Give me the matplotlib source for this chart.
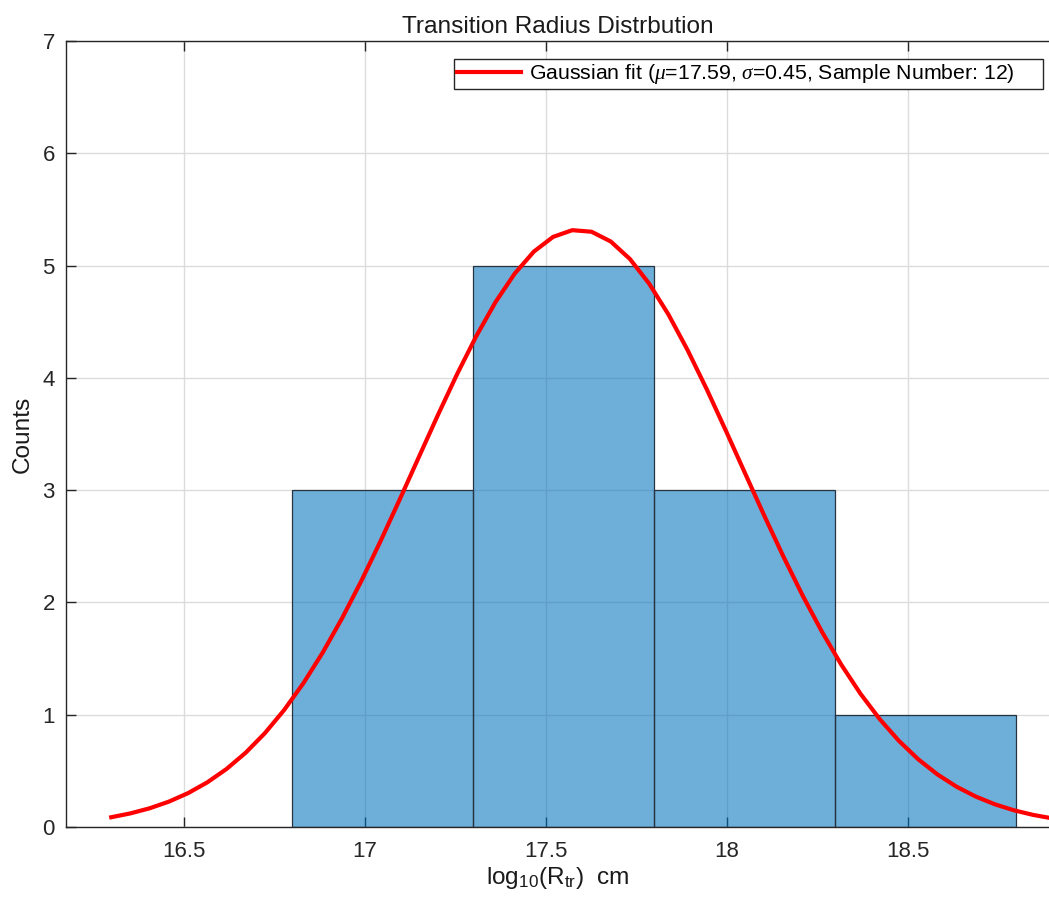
import numpy as np
import matplotlib
matplotlib.use('Agg')
import matplotlib.pyplot as plt

plt.rcParams['font.family'] = ['Liberation Sans', 'DejaVu Sans']
plt.rcParams['mathtext.fontset'] = 'custom'
plt.rcParams['mathtext.rm'] = 'Liberation Sans'
plt.rcParams['mathtext.it'] = 'Liberation Serif:italic'

# histogram bins and counts
bin_edges = [16.8, 17.3, 17.8, 18.3, 18.8]
counts = [3, 5, 3, 1]

# gaussian fit parameters (from legend)
mu = 17.59
sigma = 0.45
n_samples = 12
fit_range = (16.3, 18.9)

bin_width = bin_edges[1] - bin_edges[0]
x_fit = np.linspace(fit_range[0], fit_range[1], 50)
y_fit = n_samples * bin_width * np.exp(-0.5 * ((x_fit - mu) / sigma) ** 2) / (sigma * np.sqrt(2 * np.pi))

fig = plt.figure(figsize=(10.49, 9.02), dpi=100)
ax = fig.add_axes([0.0629, 0.0831, 0.9371, 0.8714])

ax.bar(bin_edges[:-1], counts, width=bin_width, align='edge',
       color=(0.0, 0.447, 0.741), alpha=0.57, edgecolor='none', zorder=2)
ax.bar(bin_edges[:-1], counts, width=bin_width, align='edge',
       fill=False, edgecolor=(0.15, 0.2, 0.25), linewidth=0.9, zorder=3)

ax.plot(x_fit, y_fit, color='red', linewidth=3,
        label=r'Gaussian fit ($\mu$=%.2f, $\sigma$=%.2f, Sample Number: %d)' % (mu, sigma, n_samples)
              + '\u00a0' * 5,
        zorder=4)

ax.set_xlim(16.175, 18.89)
ax.set_ylim(0, 7)
ax.set_xticks([16.5, 17, 17.5, 18, 18.5])
ax.set_xticklabels(['16.5', '17', '17.5', '18', '18.5'])
ax.set_yticks(range(0, 8))

ax.grid(True, color='#dcdcdc', linewidth=1, zorder=0)
ax.set_axisbelow(True)
for side in ['left', 'top', 'bottom']:
    ax.spines[side].set_color('#262626')
    ax.spines[side].set_linewidth(1)
ax.spines['right'].set_visible(False)
ax.tick_params(direction='in', length=7, width=1, color='#262626',
               labelsize=16, labelcolor='#262626', top=True)
ax.tick_params(axis='x', pad=10)
ax.tick_params(axis='y', pad=8)

ax.set_title('Transition Radius Distrbution', fontsize=17.6, color='#1a1a1a', pad=6)
ax.set_xlabel(r'log$_{\mathrm{10}}$(R$_{\mathrm{tr}}$)  cm', fontsize=17.6, color='#1a1a1a', labelpad=2)
ax.set_ylabel('Counts', fontsize=17.6, color='#1a1a1a', labelpad=6)

leg = ax.legend(loc='upper right', bbox_to_anchor=(0.994, 0.977), fontsize=15.3,
                fancybox=False, framealpha=1, edgecolor='#262626',
                handlelength=3.0, borderpad=0.15, handletextpad=0.4, borderaxespad=0)
leg.get_frame().set_linewidth(1)

plt.savefig('out.png', dpi=100)
